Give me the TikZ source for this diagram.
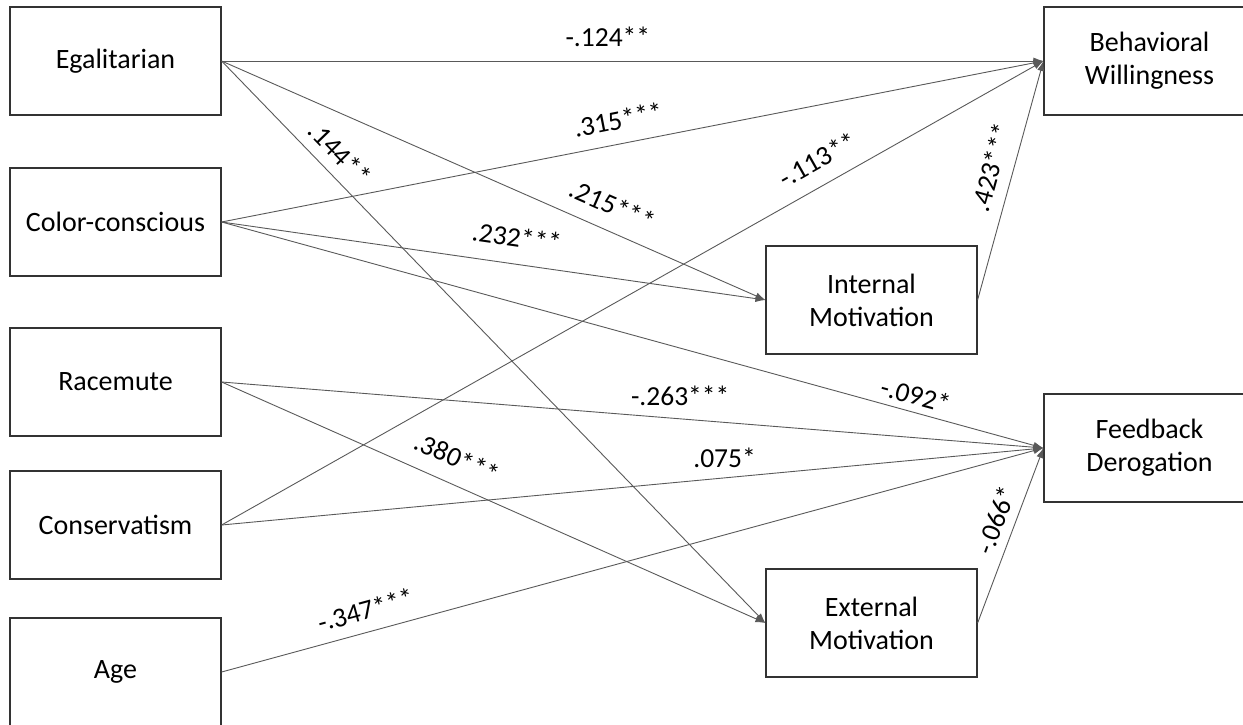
\documentclass[tikz,border=0pt]{standalone}
\usepackage{fontspec}
\setmainfont{Carlito}
\usetikzlibrary{arrows.meta}
\begin{document}
\begin{tikzpicture}[x=1pt,y=-1pt,
  box/.style={draw=black!80, line width=1.2pt, rectangle, minimum height=108pt,
    minimum width=211pt, align=center, inner sep=0pt, font=\fontsize{28}{33}\selectfont},
  conn/.style={draw=black!65, line width=0.9pt, -{Latex[length=10pt,width=7pt]}},
  lbl/.style={font=\fontsize{27.5}{33}\selectfont, inner sep=0pt, text height=19pt, text depth=0pt, text=black}
]
\useasboundingbox (0,0) rectangle (1243,725);

\node[box] (egal) at (115.5,61) {Egalitarian};
\node[box] (cc) at (115.5,222) {Color-conscious};
\node[box] (race) at (115.5,382) {Racemute};
\node[box] (cons) at (115.5,525) {Conservatism};
\node[box] (age) at (115.5,672) {Age};
\node[box] (bw) at (1149.5,61) {Behavioral\\Willingness};
\node[box] (fd) at (1149.5,448) {Feedback\\Derogation};
\node[box] (im) at (871.5,300) {Internal\\Motivation};
\node[box] (em) at (871.5,623) {External\\Motivation};

\draw[conn] (egal.east) -- node[lbl, pos=0.47, above=14pt] {-.124**} (bw.west);
\draw[conn] (cc.east) -- node[lbl, pos=0.488, sloped, above=14pt] {.315***} (bw.west);
\draw[conn] (egal.east) -- node[lbl, pos=0.70, sloped, above=15.5pt] {.215***} (im.west);
\draw[conn] (cc.east) -- node[lbl, pos=0.536, sloped, above=17pt] {.232***} (im.west);
\draw[conn] (cc.east) -- node[lbl, pos=0.839, sloped, above=7pt] {-.092*} (fd.west);
\draw[conn] (race.east) -- node[lbl, pos=0.558, above=13pt] {-.263***} (fd.west);
\draw[conn] (race.east) -- node[lbl, pos=0.414, sloped, above=16pt] {.380***} (em.west);
\draw[conn] (cons.east) -- node[lbl, pos=0.74, sloped, above=15pt] {-.113**} (bw.west);
\draw[conn] (cons.east) -- node[lbl, pos=0.612, above=10pt] {.075*} (fd.west);
\draw[conn] (age.east) -- node[lbl, pos=0.182, sloped, above=12pt] {-.347***} (fd.west);
\draw[conn] (im.east) -- node[lbl, pos=0.531, sloped, above=12pt] {.423***} (bw.west);
\draw[conn] (em.east) -- node[lbl, pos=0.55, sloped, above=9pt] {-.066*} (fd.west);
\draw[conn] (egal.east) -- node[lbl, pos=0.19, sloped, above=11pt] {.144**} (em.west);
\end{tikzpicture}
\end{document}
